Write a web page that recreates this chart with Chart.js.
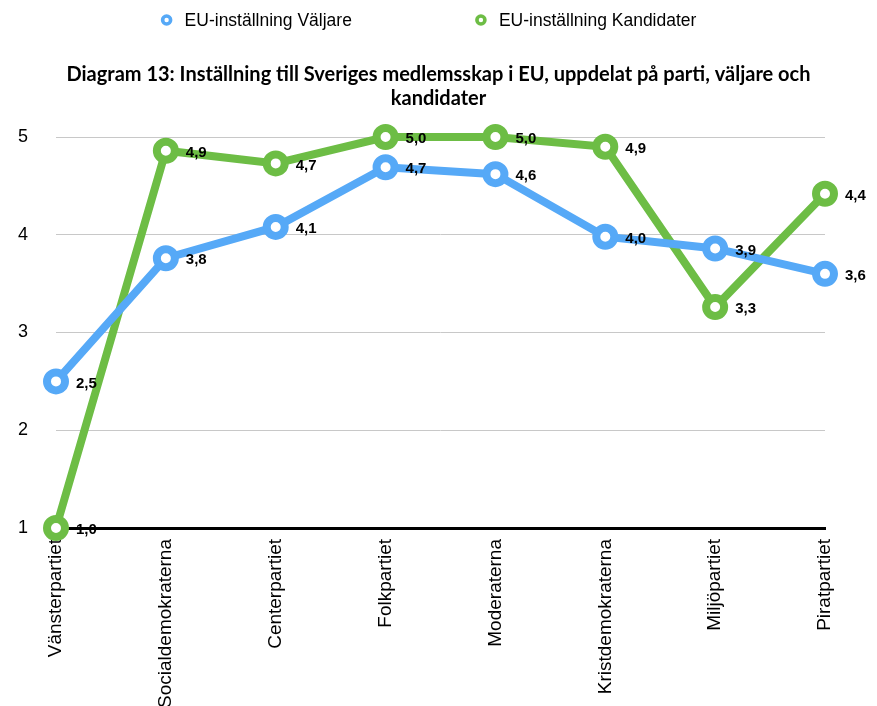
<!DOCTYPE html>
<html>
<head>
<meta charset="utf-8">
<script src="https://cdn.jsdelivr.net/npm/chart.js@4"></script>
<style>
  html, body { margin: 0; padding: 0; background: #fff; }
  #wrap { width: 877px; height: 706px; }
</style>
</head>
<body>
<div id="wrap"><canvas id="euChart"></canvas></div>
<script>
// Data
const parties = ["Vänsterpartiet", "Socialdemokraterna", "Centerpartiet", "Folkpartiet",
                 "Moderaterna", "Kristdemokraterna", "Miljöpartiet", "Piratpartiet"];
const voters = [2.5, 3.76, 4.08, 4.69, 4.62, 3.98, 3.86, 3.6];
const candidates = [1.0, 4.86, 4.73, 5.0, 5.0, 4.9, 3.26, 4.42];
const yTicks = [1, 2, 3, 4, 5];

const seriesNames = ["EU-inställning Väljare", "EU-inställning Kandidater"];
const blue = "#56a9f7";
const green = "#6dbd45";

const titleLines = [
    "Diagram 13: Inställning till Sveriges medlemsskap i EU, uppdelat på parti, väljare och",
    "kandidater"
];

// value labels to the right of each point, "4,9" style
const valueLabels = {
    id: "valueLabels",
    afterDatasetsDraw(chart) {
        const ctx = chart.ctx;
        ctx.save();
        ctx.font = "bold 15px 'Liberation Sans', Arial, sans-serif";
        ctx.fillStyle = "#000";
        ctx.textBaseline = "middle";
        ctx.textAlign = "left";
        chart.data.datasets.forEach((ds, i) => {
            const meta = chart.getDatasetMeta(i);
            meta.data.forEach((pt, j) => {
                const txt = ds.data[j].toFixed(1).replace(".", ",");
                ctx.fillText(txt, pt.x + 20, pt.y + 2);
            });
        });
        ctx.restore();
    }
};

// simple legend drawn at the top
const topLegend = {
    id: "topLegend",
    afterDraw(chart) {
        const ctx = chart.ctx;
        ctx.save();
        ctx.font = "17.5px 'Liberation Sans', Arial, sans-serif";
        ctx.textBaseline = "middle";
        const gap = 129, markGap = 18;
        const widths = seriesNames.map(n => ctx.measureText(n).width + markGap);
        const total = widths.reduce((a, b) => a + b, 0) + gap;
        let x = chart.width / 2 - 7 - total / 2;
        const y = 20;
        chart.data.datasets.forEach((ds, i) => {
            ctx.beginPath();
            ctx.arc(x, y, 4, 0, Math.PI * 2);
            ctx.lineWidth = 3.6;
            ctx.strokeStyle = ds.borderColor;
            ctx.fillStyle = "#fff";
            ctx.fill();
            ctx.stroke();
            ctx.fillStyle = "#000";
            ctx.fillText(seriesNames[i], x + markGap, y + 1);
            x += widths[i] + gap;
        });
        ctx.restore();
    }
};

function makeSet(label, values, color) {
    return {
        label: label,
        data: values,
        borderColor: color,
        backgroundColor: "#fff",
        borderWidth: 8,
        pointRadius: 9,
        pointBorderWidth: 8,
        pointBackgroundColor: "#fff",
        pointBorderColor: color,
        pointHoverRadius: 9,
        tension: 0,
        clip: false
    };
}

const ctx = document.getElementById("euChart").getContext("2d");
const chart = new Chart(ctx, {
    type: "line",
    data: {
        labels: parties,
        datasets: [
            makeSet(seriesNames[0], voters, blue),
            makeSet(seriesNames[1], candidates, green)
        ]
    },
    options: {
        responsive: true,
        maintainAspectRatio: false,
        animation: false,
        events: [],
        layout: { padding: 0 },
        plugins: {
            legend: { display: false },
            tooltip: { enabled: false },
            title: {
                display: true,
                text: titleLines,
                color: "#000",
                font: { family: "Lato, 'Open Sans', sans-serif", size: 20, weight: "bold", lineHeight: 1.2 },
                padding: { top: 63, bottom: 26 }
            }
        },
        scales: {
            x: {
                afterFit: s => { s.height = 178; },
                grid: { display: false, drawTicks: false },
                border: { display: true, color: "#000", width: 3 },
                ticks: {
                    color: "#000",
                    font: { family: "'Liberation Sans', Arial, sans-serif", size: 19 },
                    maxRotation: 90,
                    minRotation: 90,
                    autoSkip: false,
                    padding: 11
                }
            },
            y: {
                min: yTicks[0],
                max: yTicks[yTicks.length - 1],
                afterBuildTicks: s => { s.ticks = yTicks.map(v => ({ value: v })); },
                afterFit: s => { s.width = 56; },
                grid: { color: "#c8c8c8", lineWidth: 1, drawTicks: false },
                border: { display: false },
                ticks: {
                    color: "#000",
                    font: { family: "'Liberation Sans', Arial, sans-serif", size: 18 },
                    padding: 28
                }
            },
            // empty right-hand strip so the plot ends where the original does
            spacer: {
                position: "right",
                display: true,
                afterFit: s => { s.width = 52; },
                grid: { display: false, drawTicks: false },
                border: { display: false },
                ticks: { display: false }
            }
        }
    },
    plugins: [valueLabels, topLegend]
});
</script>
</body>
</html>
